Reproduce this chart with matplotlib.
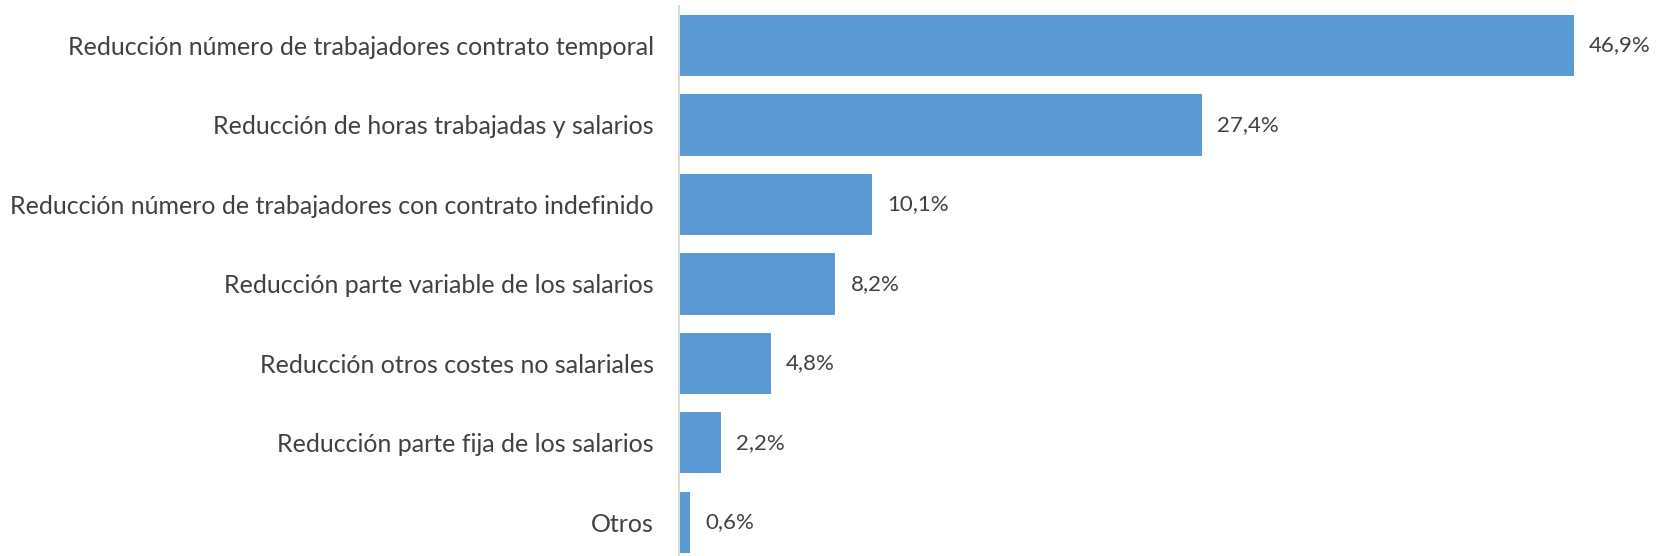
import matplotlib
matplotlib.use("Agg")
import matplotlib.pyplot as plt

categories = [
    "Reducción número de trabajadores contrato temporal",
    "Reducción de horas trabajadas y salarios",
    "Reducción número de trabajadores con contrato indefinido",
    "Reducción parte variable de los salarios",
    "Reducción otros costes no salariales",
    "Reducción parte fija de los salarios",
    "Otros",
]
values = [46.9, 27.4, 10.1, 8.2, 4.8, 2.2, 0.6]
value_labels = ["46,9%", "27,4%", "10,1%", "8,2%", "4,8%", "2,2%", "0,6%"]

plt.rcParams["font.family"] = ["Lato", "DejaVu Sans"]
text_color = "#404040"
bar_color = "#5B9BD5"

fig = plt.figure(figsize=(16.65, 5.56), dpi=100)
ax = fig.add_axes([0.4078, -0.011, 0.573, 1.0007])

y = list(range(len(categories)))
ax.barh(y, values, height=0.77, color=bar_color)
ax.set_ylim(len(categories) - 0.5, -0.5)
ax.set_xlim(0, 50)

# value labels to the right of each bar
for yi, v, lab in zip(y, values, value_labels):
    ax.annotate(lab, (v, yi), xytext=(11, 0), textcoords="offset points",
                va="center", ha="left", fontsize=16, color=text_color)

ax.set_yticks(y)
ax.set_yticklabels(categories, fontsize=18, color=text_color)
ax.tick_params(axis="y", length=0, pad=18)
ax.set_xticks([])
for side in ["top", "right", "bottom"]:
    ax.spines[side].set_visible(False)
ax.spines["left"].set_color("#D9D9D9")
ax.spines["left"].set_linewidth(1.5)

fig.savefig("out.png", dpi=100)
